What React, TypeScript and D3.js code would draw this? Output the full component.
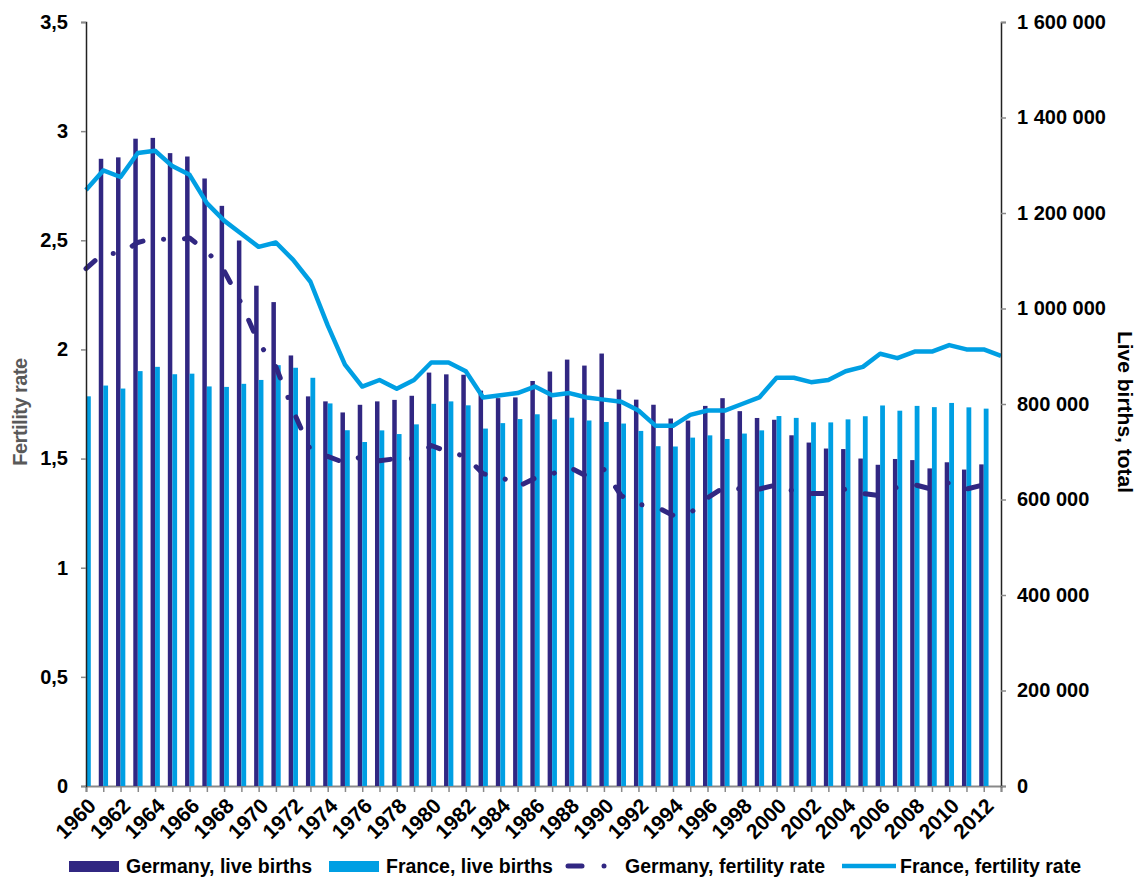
import { useRef, useEffect } from "react";
import * as d3 from "d3";

const years = d3.range(1960, 2013); // bars 1960..2012
const fertilityYears = d3.range(1960, 2014); // France line runs to 2013

const germanyBirths = [
  1261614, 1313505, 1316534, 1355595, 1357304, 1325386, 1318303, 1272276, 1214968, 1142366,
  1047737, 1013396, 901657, 815969, 805500, 782310, 798334, 805496, 808619, 817217,
  865789, 862100, 861275, 827933, 812292, 813803, 848232, 867969, 892993, 880459,
  905675, 830019, 809114, 798447, 769603, 765221, 796013, 812173, 785034, 770744,
  766999, 734475, 719250, 706721, 705622, 685795, 672724, 684862, 682514, 665126,
  677947, 662685, 673544,
];

const franceBirths = [
  816070, 838633, 832353, 868876, 877804, 862333, 863527, 836795, 835796, 842245,
  850381, 881284, 875910, 854910, 801218, 745065, 720395, 744744, 737062, 757354,
  800376, 805483, 797223, 748525, 759939, 768431, 778468, 767828, 771268, 765473,
  762407, 759056, 743658, 711610, 710993, 729609, 734338, 726768, 738080, 744791,
  774782, 770945, 761630, 761464, 767816, 774355, 796896, 785985, 796044, 793420,
  802224, 792996, 790290,
];

const germanyFertility = [
  2.37, 2.44, 2.44, 2.49, 2.51, 2.5, 2.51, 2.45, 2.36, 2.21,
  2.03, 1.92, 1.72, 1.54, 1.51, 1.48, 1.51, 1.49, 1.5, 1.5,
  1.56, 1.53, 1.51, 1.43, 1.42, 1.37, 1.41, 1.43, 1.46, 1.42,
  1.45, 1.33, 1.29, 1.28, 1.24, 1.25, 1.32, 1.37, 1.36, 1.36,
  1.38, 1.35, 1.34, 1.34, 1.36, 1.34, 1.33, 1.37, 1.38, 1.36,
  1.39, 1.36, 1.38,
];

const franceFertility = [
  2.73, 2.82, 2.79, 2.9, 2.91, 2.84, 2.8, 2.67, 2.59, 2.53,
  2.47, 2.49, 2.41, 2.31, 2.11, 1.93, 1.83, 1.86, 1.82, 1.86,
  1.94, 1.94, 1.9, 1.78, 1.79, 1.8, 1.83, 1.79, 1.8, 1.78,
  1.77, 1.76, 1.72, 1.65, 1.65, 1.7, 1.72, 1.72, 1.75, 1.78,
  1.87, 1.87, 1.85, 1.86, 1.9, 1.92, 1.98, 1.96, 1.99, 1.99,
  2.02, 2.0, 2.0, 1.97,
];

const leftTicks = [0, 0.5, 1, 1.5, 2, 2.5, 3, 3.5];
const rightTicks = [0, 200000, 400000, 600000, 800000, 1000000, 1200000, 1400000, 1600000];
const labelYears = d3.range(1960, 2013, 2);

const DARK = "#312782";
const LIGHT = "#009fe3";
const FONT = "'Liberation Sans', Arial, sans-serif";

const App = () => {
  const svgRef = useRef<SVGSVGElement>(null);

  useEffect(() => {
    const svg = d3.select(svgRef.current);
    svg.selectAll("*").remove();

    const width = 1139;
    const height = 878;
    const margin = { top: 22, right: 138, bottom: 92, left: 86 };
    const x0 = margin.left;
    const x1 = width - margin.right;
    const y0 = height - margin.bottom;

    const x = d3.scaleLinear().domain([1960, 2013]).range([x0, x1]);
    const yLeft = d3.scaleLinear().domain([0, 3.5]).range([y0, margin.top]);
    const yRight = d3.scaleLinear().domain([0, 1600000]).range([y0, margin.top]);

    svg
      .append("defs")
      .append("clipPath")
      .attr("id", "plot-clip")
      .append("rect")
      .attr("x", x0)
      .attr("y", 0)
      .attr("width", x1 - x0)
      .attr("height", y0);

    // x axis line + ticks
    const xAxis = svg
      .append("g")
      .attr("transform", `translate(0,${y0})`)
      .call(
        d3
          .axisBottom(x)
          .tickValues(fertilityYears)
          .tickSize(6)
          .tickFormat(() => "")
      );
    xAxis.select(".domain").attr("stroke", "#898989").attr("stroke-width", 2);
    xAxis.selectAll(".tick line").attr("stroke", "#898989").attr("stroke-width", 1.5);

    // bars
    const bars = svg.append("g").attr("clip-path", "url(#plot-clip)");
    bars
      .selectAll("rect.de")
      .data(years)
      .join("rect")
      .attr("class", "de")
      .attr("x", (d) => x(d) - 4.5)
      .attr("width", 4.5)
      .attr("y", (d, i) => yRight(germanyBirths[i]))
      .attr("height", (d, i) => y0 - yRight(germanyBirths[i]))
      .attr("fill", DARK);
    bars
      .selectAll("rect.fr")
      .data(years)
      .join("rect")
      .attr("class", "fr")
      .attr("x", (d) => x(d))
      .attr("width", 4.8)
      .attr("y", (d, i) => yRight(franceBirths[i]))
      .attr("height", (d, i) => y0 - yRight(franceBirths[i]))
      .attr("fill", LIGHT);

    // lines
    const line = d3
      .line<number>()
      .x((d, i) => x(1960 + i))
      .y((d) => yLeft(d));

    svg
      .append("path")
      .datum(germanyFertility)
      .attr("fill", "none")
      .attr("stroke", DARK)
      .attr("stroke-width", 5)
      .attr("stroke-linecap", "round")
      .attr("stroke-linejoin", "round")
      .attr("stroke-dasharray", "12,21,0.1,21")
      .attr("d", line);

    svg
      .append("path")
      .datum(franceFertility)
      .attr("fill", "none")
      .attr("stroke", LIGHT)
      .attr("stroke-width", 4.5)
      .attr("stroke-linejoin", "round")
      .attr("d", line);

    // x labels
    svg
      .append("g")
      .selectAll("text")
      .data(labelYears)
      .join("text")
      .attr("transform", (d) => `translate(${x(d) + 6},${y0 + 16}) rotate(-45)`)
      .attr("text-anchor", "end")
      .attr("dy", "0.35em")
      .style("font-family", FONT)
      .style("font-weight", "bold")
      .style("font-size", "21px")
      .text((d) => d);

    // left axis
    const left = svg
      .append("g")
      .attr("transform", `translate(${x0},0)`)
      .call(
        d3
          .axisLeft(yLeft)
          .tickValues(leftTicks)
          .tickSize(5)
          .tickPadding(13)
          .tickFormat((d) => String(d).replace(".", ","))
      );
    left.select(".domain").attr("stroke", "#222").attr("stroke-width", 1.5);
    left.selectAll(".tick line").attr("stroke", "#898989").attr("stroke-width", 1.5);
    left
      .selectAll(".tick text")
      .style("font-family", FONT)
      .style("font-weight", "bold")
      .style("font-size", "20px")
      .attr("fill", "#000");

    // right axis
    const right = svg
      .append("g")
      .attr("transform", `translate(${x1},0)`)
      .call(
        d3
          .axisRight(yRight)
          .tickValues(rightTicks)
          .tickSize(5)
          .tickPadding(11)
          .tickFormat((d) => d3.format(",")(d as number).replace(/,/g, " "))
      );
    right.select(".domain").attr("stroke", "#222").attr("stroke-width", 1.5);
    right.selectAll(".tick line").attr("stroke", "#898989").attr("stroke-width", 1.5);
    right
      .selectAll(".tick text")
      .style("font-family", FONT)
      .style("font-weight", "bold")
      .style("font-size", "20px")
      .attr("fill", "#000");

    // axis titles
    svg
      .append("text")
      .attr("transform", `translate(27,412) rotate(-90)`)
      .attr("text-anchor", "middle")
      .style("font-family", FONT)
      .style("font-weight", "bold")
      .style("font-size", "20px")
      .style("letter-spacing", "-0.5px")
      .attr("fill", "#595959")
      .text("Fertility rate");

    svg
      .append("text")
      .attr("transform", `translate(1118,412) rotate(90)`)
      .attr("text-anchor", "middle")
      .style("font-family", FONT)
      .style("font-weight", "bold")
      .style("font-size", "21px")
      .attr("fill", "#000")
      .text("Live births, total");

    // legend
    const legendY = 866;
    const legend = svg.append("g");
    legend.append("rect").attr("x", 69).attr("y", legendY - 5).attr("width", 50).attr("height", 11).attr("fill", DARK);
    legend.append("rect").attr("x", 329).attr("y", legendY - 5).attr("width", 50).attr("height", 11).attr("fill", LIGHT);
    legend
      .append("line")
      .attr("x1", 568)
      .attr("x2", 582)
      .attr("y1", legendY)
      .attr("y2", legendY)
      .attr("stroke", DARK)
      .attr("stroke-width", 5)
      .attr("stroke-linecap", "round");
    legend.append("circle").attr("cx", 604).attr("cy", legendY).attr("r", 2.5).attr("fill", DARK);
    legend
      .append("line")
      .attr("x1", 842)
      .attr("x2", 896)
      .attr("y1", legendY)
      .attr("y2", legendY)
      .attr("stroke", LIGHT)
      .attr("stroke-width", 4.5);

    const items = [
      { x: 126, label: "Germany, live births" },
      { x: 386, label: "France, live births" },
      { x: 625, label: "Germany, fertility rate" },
      { x: 900, label: "France, fertility rate" },
    ];
    legend
      .selectAll("text")
      .data(items)
      .join("text")
      .attr("x", (d) => d.x)
      .attr("y", legendY)
      .attr("dy", "0.35em")
      .style("font-family", FONT)
      .style("font-weight", "bold")
      .style("font-size", "19.5px")
      .text((d) => d.label);
  }, []);

  return (
    <>
      <style>{`body{margin:0}`}</style>
      <svg ref={svgRef} width="1139" height="878" style={{ display: "block" }} />
    </>
  );
};

export default App;
